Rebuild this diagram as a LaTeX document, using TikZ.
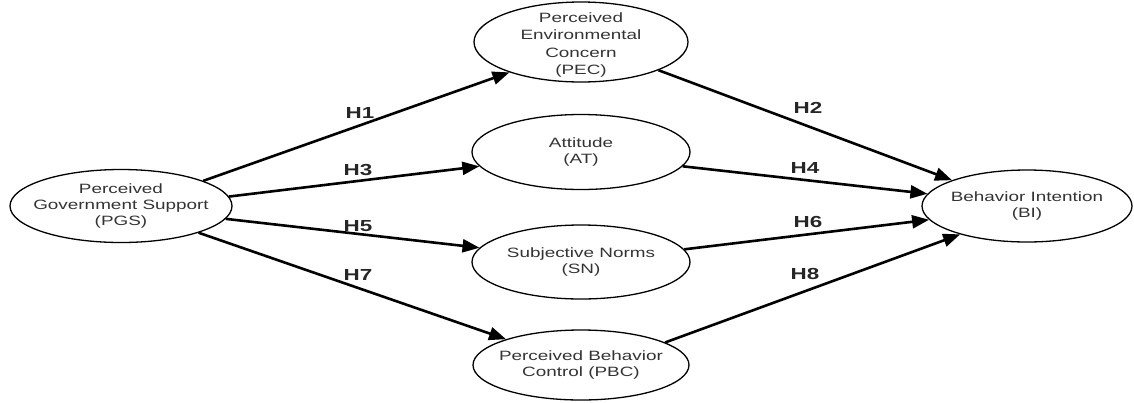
\documentclass[tikz,border=0pt]{standalone}
\usepackage{fontspec}
\setmainfont{Liberation Sans}
\newfontfamily\wide[FakeStretch=1.4]{Liberation Sans}
\newfontfamily\widebold[FakeStretch=1.4]{Liberation Sans Bold}
\usetikzlibrary{shapes.geometric,arrows.meta}
\begin{document}
\begin{tikzpicture}[x=1pt,y=-1pt,
  var/.style={ellipse,draw=black,line width=1.3pt,inner sep=0pt},
  vtext/.style={align=center,inner sep=0pt,text=black!80,font=\wide\fontsize{13.5}{16}\selectfont},
  path/.style={line width=2.6pt,-{Triangle[length=17pt,width=13pt]}},
  hlab/.style={font=\widebold\fontsize{16}{18}\selectfont,text=black!85}]
\useasboundingbox (0,0) rectangle (1134,402);
\node[var,minimum width=222pt,minimum height=73pt] (PGS) at (121,206) {};
\node[var,minimum width=214pt,minimum height=80pt] (PEC) at (581,42) {};
\node[var,minimum width=218pt,minimum height=75pt] (AT) at (581,152) {};
\node[var,minimum width=218pt,minimum height=74pt] (SN) at (581,262) {};
\node[var,minimum width=216pt,minimum height=70pt] (PBC) at (581,365) {};
\node[var,minimum width=210pt,minimum height=72pt] (BI) at (1027,206) {};
\node[vtext] (PGSt) at (PGS) {Perceived\\Government Support\\(PGS)};
\node[vtext,font=\wide\fontsize{13.5}{17.5}\selectfont] (PECt) at (581,45) {Perceived\\Environmental\\Concern\\(PEC)};
\node[vtext] (ATt) at (AT) {Attitude\\(AT)};
\node[vtext] (SNt) at (SN) {Subjective Norms\\(SN)};
\node[vtext] (PBCt) at (PBC) {Perceived Behavior\\Control (PBC)};
\node[vtext] (BIt) at (BI) {Behavior Intention\\(BI)};
\draw[path] (PGS.17) -- (PEC.203);
\draw[path] (PGS.5) -- (AT.188);
\draw[path] (PGS.-7) -- (SN.172);
\draw[path] (PGS.-19) -- (PBC.161);
\draw[path] (PEC.-20) -- (BI.161);
\draw[path] (AT.-8) -- (BI.173);
\draw[path] (SN.7) -- (BI.188);
\draw[path] (PBC.15) -- (BI.203);
\node[hlab] (h1) at (360,113) {H1};
\node[hlab] (h3) at (358,170) {H3};
\node[hlab] (h5) at (358,226) {H5};
\node[hlab] (h7) at (358,275) {H7};
\node[hlab] (h2) at (808,108) {H2};
\node[hlab] (h4) at (805,168) {H4};
\node[hlab] (h6) at (808,222) {H6};
\node[hlab] (h8) at (805,274) {H8};
\end{tikzpicture}
\end{document}
